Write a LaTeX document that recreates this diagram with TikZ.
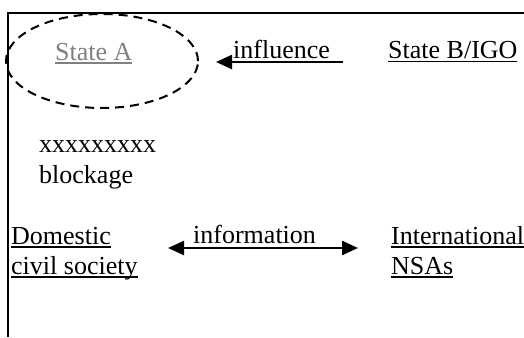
\documentclass[tikz,border=0pt]{standalone}
\usepackage{fontspec}
\setmainfont{Liberation Serif}
\usepackage{tikz}
\usetikzlibrary{shapes.geometric,arrows.meta,positioning}
\definecolor{grey5}{HTML}{808080}
\newcommand{\ulword}[1]{\setbox0=\hbox{#1}\rlap{\rule[-3.5pt]{\wd0}{1.5pt}}\box0}
\tikzset{
  txt/.style={inner sep=0pt, anchor=base west, font=\fontsize{26}{30}\selectfont},
  arr/.style={line width=2.5pt, -{Triangle[length=16pt,width=14pt]}},
}
\begin{document}
\begin{tikzpicture}[x=1pt, y=-1pt]
\useasboundingbox (0,0) rectangle (524,337);
\draw[line width=2pt] (524,13) -- (8,13) -- (8,337);
\node[ellipse, draw, dashed, line width=2pt, dash pattern=on 9pt off 6pt,
      minimum width=192pt, minimum height=94pt, inner sep=0pt] (ell) at (102,61) {};
\node[txt] (stateA) at (55,60) {\textcolor{grey5}{\ulword{State A}}};
\node[txt] (infl) at (233,59) {influence};
\node[txt] (stateB) at (388,59) {\ulword{State B/IGO}};
\node[txt] (xline) at (39,152) {xxxxxxxxx};
\node[txt] (block) at (39,183) {blockage};
\node[txt] (dom) at (11,244) {\ulword{Domestic}};
\node[txt] (civ) at (11,274) {\ulword{civil society}};
\node[txt] (info) at (193,243) {information};
\node[txt] (intl) at (391,244) {\ulword{International}};
\node[txt] (nsa) at (391,274) {\ulword{NSAs}};
\coordinate (infR) at (343,62);
\coordinate (infL) at (216,62);
\coordinate (infoL) at (168,248);
\coordinate (infoR) at (358,248);
\draw[arr] (infR) -- (infL);
\draw[arr, {Triangle[length=16pt,width=14pt]}-{Triangle[length=16pt,width=14pt]}] (infoL) -- (infoR);
\end{tikzpicture}
\end{document}
